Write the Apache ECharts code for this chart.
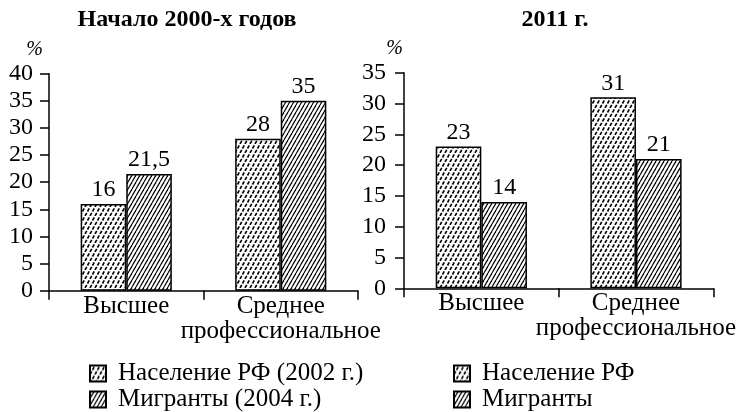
<!DOCTYPE html>
<html><head><meta charset="utf-8">
<script src="https://cdn.jsdelivr.net/npm/echarts@6/dist/echarts.min.js"></script>
<style>html,body{margin:0;padding:0;background:#fff}#c{width:743px;height:412px}</style>
</head><body><div id="c"></div>
<script>
// ---- data ----
const categories = ['Высшее', 'Среднее\nпрофессиональное'];
const leftTitle = 'Начало 2000-х годов';
const rightTitle = '2011 г.';
const leftPopulation = [16, 28];
const leftMigrants = [21.5, 35];
const rightPopulation = [23, 31];
const rightMigrants = [14, 21];
const leftNames = ['Население РФ (2002 г.)', 'Мигранты (2004 г.)'];
const rightNames = ['Население РФ', 'Мигранты'];
const leftTicks = { min: 0, max: 40, interval: 5 };
const rightTicks = { min: 0, max: 35, interval: 5 };
const unitName = '%';

// ---- styles ----
const FONT = "'Liberation Serif', 'DejaVu Serif', serif";

function solidHatch() {
  const w = 4, h = 7;
  const c = document.createElement('canvas');
  c.width = w; c.height = h;
  const g = c.getContext('2d');
  g.fillStyle = '#fff'; g.fillRect(0, 0, w, h);
  g.strokeStyle = '#000'; g.lineWidth = 1.2;
  for (const dx of [-w, 0, w]) {
    g.beginPath(); g.moveTo(dx, h); g.lineTo(dx + w, 0); g.stroke();
  }
  return c;
}
function dashedHatch() {
  const w = 5, h = 9;
  const c = document.createElement('canvas');
  c.width = w; c.height = h;
  const g = c.getContext('2d');
  g.fillStyle = '#fff'; g.fillRect(0, 0, w, h);
  g.strokeStyle = '#000'; g.lineWidth = 1.6;
  const len = Math.sqrt(w * w + h * h);
  g.setLineDash([len / 2 * 0.7, len / 2 * 0.3]);
  for (const dx of [-w, 0, w]) {
    g.beginPath(); g.moveTo(dx, h); g.lineTo(dx + w, 0); g.stroke();
  }
  return c;
}
const popFill = { image: dashedHatch(), repeat: 'repeat' };
const migFill = { image: solidHatch(), repeat: 'repeat' };

function xAxis(gi) {
  return {
    gridIndex: gi, type: 'category', data: categories,
    axisLine: { lineStyle: { color: '#000', width: 1.5 } },
    axisTick: { show: true, length: 9, lineStyle: { color: '#000', width: 1.5 } },
    axisLabel: { interval: 0, color: '#000', fontFamily: FONT, fontSize: 25, margin: 3, lineHeight: 25 }
  };
}
function yAxis(gi, t, labelMargin, namePad) {
  return {
    gridIndex: gi, type: 'value', min: t.min, max: t.max, interval: t.interval,
    name: unitName, nameLocation: 'end', nameGap: 14,
    nameTextStyle: { color: '#000', fontFamily: FONT, fontSize: 20, fontStyle: 'italic', align: 'right', padding: [0, namePad, 0, 0] },
    axisLine: { show: true, lineStyle: { color: '#000', width: 1.5 } },
    axisTick: { show: true, length: 9, lineStyle: { color: '#000', width: 1.5 } },
    axisLabel: { color: '#000', fontFamily: FONT, fontSize: 24, margin: labelMargin },
    splitLine: { show: false }
  };
}
function bar(name, data, gi, fill) {
  return {
    name, type: 'bar', data, xAxisIndex: gi, yAxisIndex: gi,
    barGap: '0%', barCategoryGap: '41%',
    itemStyle: { color: fill, borderColor: '#000', borderWidth: 1.5 },
    label: { show: true, position: 'top', distance: 2, color: '#000', fontFamily: FONT, fontSize: 24,
      formatter: p => String(p.value).replace('.', ',') },
    emphasis: { disabled: true }
  };
}
function legend(names, left) {
  return {
    data: names, left, top: 361, orient: 'vertical', icon: 'rect', padding: 0,
    itemWidth: 16, itemHeight: 16, itemGap: 1,
    textStyle: { color: '#000', fontFamily: FONT, fontSize: 25, lineHeight: 24, padding: [0, 0, 0, 7] },
    selectedMode: false
  };
}

const chart = echarts.init(document.getElementById('c'), null, { renderer: 'canvas' });
chart.setOption({
  animation: false,
  backgroundColor: '#fff',
  title: [
    { text: leftTitle, left: 187, top: 8, padding: 0, textAlign: 'center', textStyle: { color: '#000', fontFamily: FONT, fontWeight: 'bold', fontSize: 24 } },
    { text: rightTitle, left: 555, top: 8, padding: 0, textAlign: 'center', textStyle: { color: '#000', fontFamily: FONT, fontWeight: 'bold', fontSize: 24 } }
  ],
  legend: [legend(leftNames, 89), legend(rightNames, 453)],
  grid: [
    { left: 49, top: 73.7, width: 309, height: 217, outerBoundsMode: 'none' },
    { left: 404, top: 72.7, width: 309.3, height: 215.6, outerBoundsMode: 'none' }
  ],
  xAxis: [xAxis(0), xAxis(1)],
  yAxis: [yAxis(0, leftTicks, 16, 6), yAxis(1, rightTicks, 18, 1)],
  series: [
    bar(leftNames[0], leftPopulation, 0, popFill),
    bar(leftNames[1], leftMigrants, 0, migFill),
    bar(rightNames[0], rightPopulation, 1, popFill),
    bar(rightNames[1], rightMigrants, 1, migFill)
  ]
});
</script></body></html>
